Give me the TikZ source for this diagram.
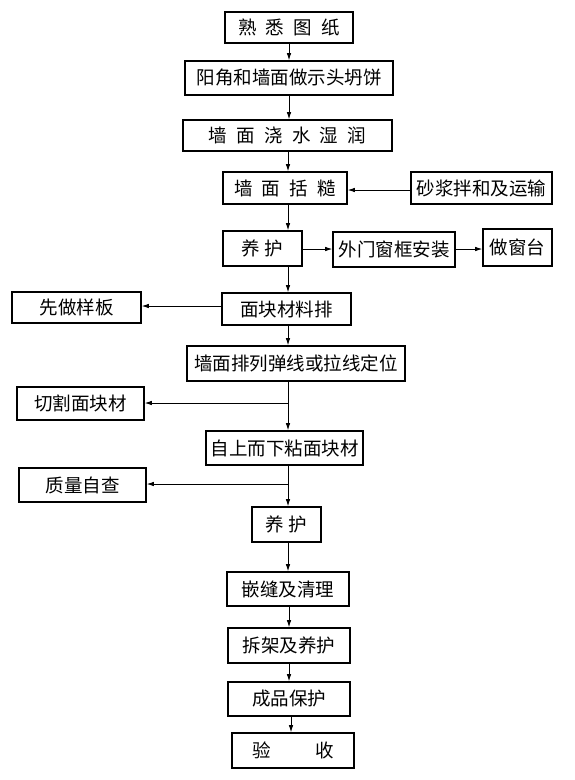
\documentclass[tikz,border=0pt]{standalone}
\usepackage{fontspec}
\setmainfont{Noto Sans CJK SC}
\usetikzlibrary{arrows.meta}
\newcommand\gapx{\hspace{0.5em}}
\begin{document}
\begin{tikzpicture}[x=1pt,y=-1pt,
  box/.style={draw,line width=1.6pt,rectangle,inner sep=0pt,font=\fontsize{18.5}{20}\selectfont},
  arr/.style={line width=0.8pt,-{Latex[length=7pt,width=4.5pt]}},
  ln/.style={line width=0.8pt}]
\useasboundingbox[fill=white] (0,0) rectangle (574,780);
\newcommand\bx[7]{\node[box,minimum width=#4pt,minimum height=#5pt] (#1) at (#2,#3) {#6};}
\bx{b1}{289}{27.5}{128}{31}{熟\gapx 悉\gapx 图\gapx 纸}{}
\bx{b2}{289}{78}{208}{34}{阳角和墙面做示头坍饼}{}
\bx{b3}{287.5}{135.5}{209}{31}{墙\gapx 面\gapx 浇\gapx 水\gapx 湿\gapx 润}{}
\bx{b4}{285}{188}{124}{32}{墙\gapx 面\gapx 括\gapx 糙}{}
\bx{s1}{481.5}{188}{141}{32}{砂浆拌和及运输}{}
\bx{b5}{262.5}{248.5}{79}{35}{养 护}{}
\bx{w1}{394}{249.5}{122}{35}{外门窗框安装}{}
\bx{w2}{517.5}{247.5}{69}{37}{做窗台}{}
\bx{l1}{76.5}{307.5}{129}{31}{先做样板}{}
\bx{b6}{286.5}{309}{129}{32}{面块材料排}{}
\bx{b7}{296}{363.5}{218}{35}{墙面排列弹线或拉线定位}{}
\bx{l2}{80.5}{403.5}{127}{33}{切割面块材}{}
\bx{b8}{284.5}{448}{157}{34}{自上而下粘面块材}{}
\bx{l3}{82.5}{485}{127}{34}{质量自查}{}
\bx{b9}{286.5}{524.5}{69}{35}{养 护}{}
\bx{b10}{288}{589}{122}{34}{嵌缝及清理}{}
\bx{b11}{289}{645.5}{122}{35}{拆架及养护}{}
\bx{b12}{289}{699}{122}{34}{成品保护}{}
\bx{b13}{293}{750.5}{122}{35}{验\hspace{2.4em}收}{}
\coordinate (X) at (289,0);
\coordinate (X2) at (288,0);
\draw[arr] (b1.south -| X) -- (b2.north -| X);
\draw[arr] (b2.south -| X) -- (b3.north -| X);
\draw[arr] (b3.south -| X2) -- (b4.north -| X2);
\draw[arr] (s1.west |- 0,190) -- (b4.east |- 0,190);
\draw[arr] (b4.south -| X2) -- (b5.north -| X2);
\draw[arr] (b5.east |- 0,249) -- (w1.west |- 0,249);
\draw[arr] (w1.east |- 0,249) -- (w2.west |- 0,249);
\draw[arr] (b5.south -| X2) -- (b6.north -| X2);
\draw[arr] (b6.west |- 0,306) -- (l1.east |- 0,306);
\draw[arr] (b6.south -| X2) -- (b7.north -| X2);
\draw[arr] (b7.south -| X2) -- (b8.north -| X2);
\coordinate (j1) at (288,403);
\draw[arr] (j1) -- (l2.east |- j1);
\draw[arr] (b8.south -| X2) -- (b9.north -| X2);
\coordinate (j2) at (288,484);
\draw[arr] (j2) -- (l3.east |- j2);
\draw[arr] (b9.south -| X2) -- (b10.north -| X2);
\draw[arr] (b10.south -| X) -- (b11.north -| X);
\draw[arr] (b11.south -| X) -- (b12.north -| X);
\draw[arr] (b12.south -| 291,0) -- (b13.north -| 291,0);
\end{tikzpicture}
\end{document}
